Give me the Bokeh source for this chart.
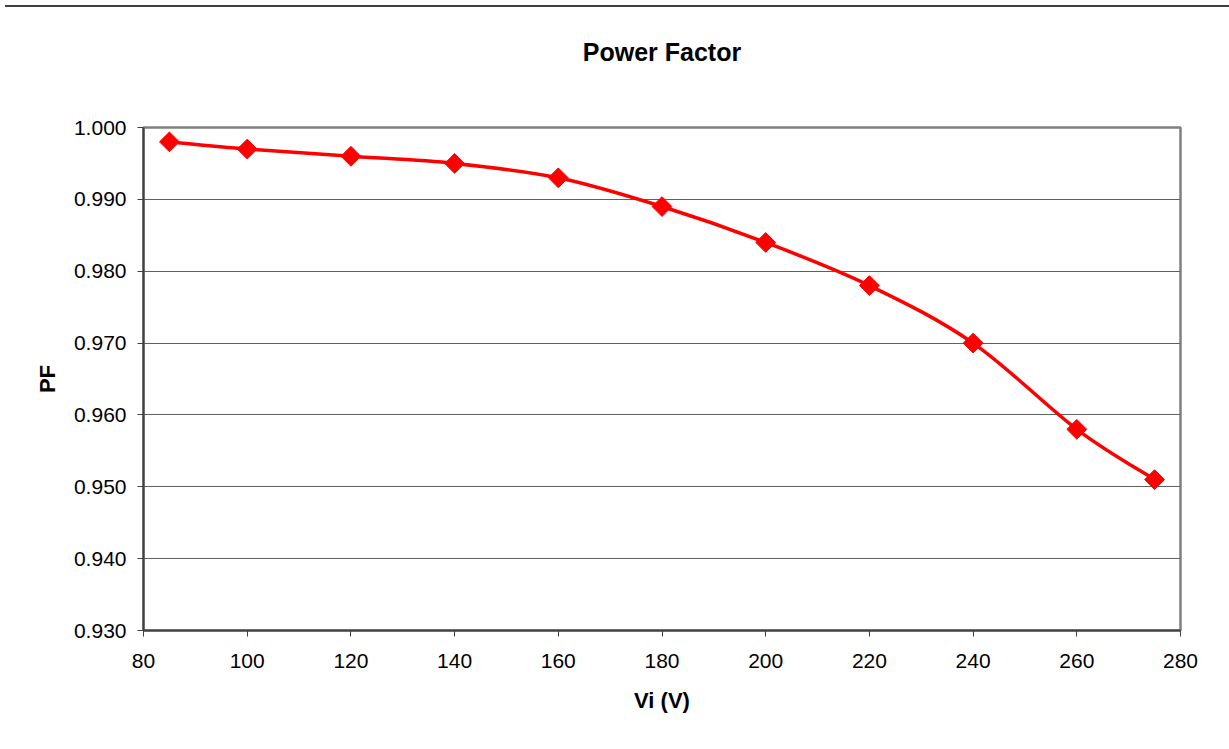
import math
from bokeh.plotting import figure
from bokeh.models import Range1d, FixedTicker, NumeralTickFormatter, Title, Div
from bokeh.layouts import column
from bokeh.embed import file_html
from bokeh.resources import INLINE

vi = [85, 100, 120, 140, 160, 180, 200, 220, 240, 260, 275]
pf = [0.998, 0.997, 0.996, 0.995, 0.993, 0.989, 0.984, 0.978, 0.970, 0.958, 0.951]
x_ticks = [80, 100, 120, 140, 160, 180, 200, 220, 240, 260, 280]
y_ticks = [0.930, 0.940, 0.950, 0.960, 0.970, 0.980, 0.990, 1.000]
title_text = "Power Factor"

FONT = "Liberation Sans"
RED = "#FF0000"
W, H = 1213, 718
BL, BR, BT, BB = 143, 33, 112, 103

p = figure(width=W, height=H, output_backend="svg", toolbar_location=None,
           title=None,
           x_range=Range1d(80, 280), y_range=Range1d(0.930, 1.000),
           min_border_left=BL, min_border_right=BR, min_border_top=BT,
           min_border_bottom=BB)

# spacer panel between the frame and the title, then the title itself
p.add_layout(Title(text=" ", text_font_size="1px", standoff=59), "above")
p.add_layout(Title(text=title_text, align="center", text_font=FONT,
                   text_font_size="25px", text_font_style="bold",
                   text_color="black", standoff=0), "above")

p.outline_line_color = "#808080"
p.outline_line_width = 2.5
p.background_fill_color = "white"
p.border_fill_color = "white"

p.xaxis.ticker = FixedTicker(ticks=x_ticks)
p.yaxis.ticker = FixedTicker(ticks=y_ticks)
p.yaxis.formatter = NumeralTickFormatter(format="0.000")
for ax in (p.xaxis, p.yaxis):
    ax.axis_line_color = "#404040"
    ax.axis_line_width = 2
    ax.major_tick_line_color = "#404040"
    ax.major_tick_line_width = 1
    ax.major_tick_out = 6
    ax.major_tick_in = 0
    ax.minor_tick_line_color = None
    ax.major_label_text_font = FONT
    ax.major_label_text_font_size = "21px"
    ax.major_label_text_color = "black"
    ax.axis_label_text_font = FONT
    ax.axis_label_text_font_size = "22px"
    ax.axis_label_text_font_style = "bold"
    ax.axis_label_text_color = "black"
p.xaxis.axis_label = "Vi (V)"
p.yaxis.axis_label = "PF"
p.xaxis.major_label_standoff = 17
p.yaxis.major_label_standoff = 11
p.xaxis.axis_label_standoff = 17
p.yaxis.axis_label_standoff = 11

p.xgrid.grid_line_color = None
p.ygrid.grid_line_color = "#606060"
p.ygrid.grid_line_width = 1

# smoothed line (Catmull-Rom style bezier segments through the data points)
n = len(vi)
x0, y0, x1, y1, cx0, cy0, cx1, cy1 = [], [], [], [], [], [], [], []
for i in range(n - 1):
    xm = vi[i - 1] if i > 0 else vi[i]
    ym = pf[i - 1] if i > 0 else pf[i]
    xp = vi[i + 2] if i + 2 < n else vi[i + 1]
    yp = pf[i + 2] if i + 2 < n else pf[i + 1]
    x0.append(vi[i]); y0.append(pf[i])
    x1.append(vi[i + 1]); y1.append(pf[i + 1])
    cx0.append(vi[i] + (vi[i + 1] - xm) / 6.0)
    cy0.append(pf[i] + (pf[i + 1] - ym) / 6.0)
    cx1.append(vi[i + 1] - (xp - vi[i]) / 6.0)
    cy1.append(pf[i + 1] - (yp - pf[i]) / 6.0)
p.bezier(x0=x0, y0=y0, x1=x1, y1=y1, cx0=cx0, cy0=cy0, cx1=cx1, cy1=cy1,
         line_color=RED, line_width=3.5)
p.scatter(vi, pf, marker="square", angle=math.pi / 4, size=14,
          fill_color=RED, line_color=RED)

top_rule = Div(text="", width=1229, height=5,
               styles={"background": "linear-gradient(to bottom, #404040 0px, #404040 2px, #ffffff 2px, #ffffff 5px)"})

layout = column(top_rule, p, spacing=0)
open("out.html", "w").write(file_html(layout, INLINE))
